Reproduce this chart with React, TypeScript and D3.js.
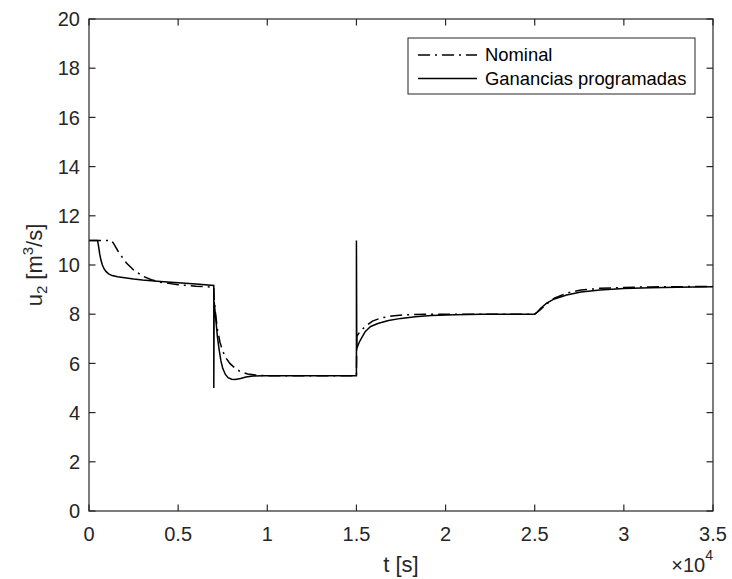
import React from "react";
import * as d3 from "d3";

const xTicks = [0, 5000, 10000, 15000, 20000, 25000, 30000, 35000];
const xTickLabels = ["0", "0.5", "1", "1.5", "2", "2.5", "3", "3.5"];
const yTicks = [0, 2, 4, 6, 8, 10, 12, 14, 16, 18, 20];

const tGanancias = [
  0, 480, 540, 600, 670, 750, 850, 950, 1100, 1300, 1600, 2000, 2500, 3000, 3500, 4000, 5000, 6000, 7000,
  7000, 7020, 7100, 7200, 7300, 7400, 7500, 7650, 7800, 8000, 8200, 8500, 8800, 9200, 9800, 15000,
  15000, 15020, 15150, 15300, 15500, 15800, 16200, 16800, 17500, 18300, 19200, 20500, 22000, 25000,
  25150, 25350, 25670, 26100, 26790, 27600, 28660, 30000, 31500, 33000, 35000,
];
const uGanancias = [
  11, 11, 10.75, 10.45, 10.2, 10.0, 9.84, 9.74, 9.64, 9.57, 9.52, 9.48, 9.43, 9.39, 9.36, 9.33, 9.28, 9.23, 9.17,
  5.0, 8.5, 7.9, 7.1, 6.55, 6.1, 5.8, 5.55, 5.42, 5.36, 5.35, 5.39, 5.45, 5.49, 5.5, 5.5,
  11, 6.6, 6.85, 7.05, 7.3, 7.5, 7.62, 7.74, 7.83, 7.9, 7.95, 7.98, 8.0, 8.0,
  8.1, 8.25, 8.45, 8.62, 8.78, 8.9, 8.98, 9.04, 9.08, 9.1, 9.12,
];

const tNominal = [
  0, 1270, 1400, 1600, 1800, 2100, 2500, 3000, 3500, 4000, 5000, 6000, 7000,
  7020, 7100, 7200, 7350, 7500, 7700, 7900, 8200, 8500, 8900, 9400, 10000, 15000,
  15020, 15200, 15500, 15900, 16400, 17000, 17800, 19000, 25000,
  25150, 25350, 25670, 26100, 26790, 27600, 28660, 30000, 31500, 35000,
];
const uNominal = [
  11, 11, 10.85, 10.6, 10.38, 10.08, 9.8, 9.55, 9.4, 9.3, 9.2, 9.14, 9.1,
  8.6, 8.0, 7.4, 6.85, 6.5, 6.2, 6.0, 5.8, 5.66, 5.57, 5.52, 5.5, 5.5,
  7.1, 7.3, 7.5, 7.72, 7.85, 7.93, 7.98, 8.0, 8.0,
  8.08, 8.2, 8.42, 8.65, 8.86, 8.98, 9.05, 9.09, 9.11, 9.13,
];

const legendLabels = ["Nominal", "Ganancias programadas"];

const W = 732;
const H = 579;
const L = 89, R = 713, T = 19, B = 511;
const FONT = "'Liberation Sans', Arial, Helvetica, sans-serif";
const AX = "#262626";

export default function App() {
  const x = d3.scaleLinear().domain([0, 35000]).range([L, R]);
  const y = d3.scaleLinear().domain([0, 20]).range([B, T]);
  const line = d3
    .line<[number, number]>()
    .x((d) => x(d[0]))
    .y((d) => y(d[1]));
  const gan: [number, number][] = tGanancias.map((t, i) => [t, uGanancias[i]]);
  const nom: [number, number][] = tNominal.map((t, i) => [t, uNominal[i]]);
  const tl = 6.5;
  const dash = "12,5,2,5";

  const lx0 = 408, lx1 = 695, ly0 = 38, ly1 = 94;
  const rows = [55, 78.5];

  return (
    <svg
      width={W}
      height={H}
      style={{ position: "absolute", left: 0, top: 0, background: "#fff" }}
      fontFamily={FONT}
    >
      <rect x={0} y={0} width={W} height={H} fill="#fff" />
      <path d={line(nom) || ""} fill="none" stroke="#000" strokeWidth={1.5} strokeDasharray={dash} />
      <path d={line(gan) || ""} fill="none" stroke="#000" strokeWidth={1.5} />

      {/* axes box */}
      <rect x={L} y={T} width={R - L} height={B - T} fill="none" stroke={AX} strokeWidth={1.2} />
      {xTicks.map((t, i) => (
        <g key={"xt" + i}>
          <line x1={x(t)} x2={x(t)} y1={B} y2={B - tl} stroke={AX} strokeWidth={1.2} />
          <line x1={x(t)} x2={x(t)} y1={T} y2={T + tl} stroke={AX} strokeWidth={1.2} />
          <text x={x(t)} y={541} textAnchor="middle" fontSize={20} fill={AX}>
            {xTickLabels[i]}
          </text>
        </g>
      ))}
      {yTicks.map((v, i) => (
        <g key={"yt" + i}>
          <line x1={L} x2={L + tl} y1={y(v)} y2={y(v)} stroke={AX} strokeWidth={1.2} />
          <line x1={R} x2={R - tl} y1={y(v)} y2={y(v)} stroke={AX} strokeWidth={1.2} />
          <text x={80} y={y(v)} dy="0.36em" textAnchor="end" fontSize={20} fill={AX}>
            {v}
          </text>
        </g>
      ))}

      {/* x exponent */}
      <text x={713} y={572} textAnchor="end" fontSize={20} fill={AX}>
        <tspan>×10</tspan>
        <tspan fontSize={14} dy={-12}>4</tspan>
      </text>

      {/* axis labels */}
      <text x={(L + R) / 2} y={572} textAnchor="middle" fontSize={22} fill={AX}>
        t [s]
      </text>
      <text
        transform={`translate(42, ${(T + B) / 2}) rotate(-90)`}
        textAnchor="middle"
        fontSize={22}
        fill={AX}
      >
        <tspan>u</tspan>
        <tspan fontSize={15} dy={5}>2</tspan>
        <tspan dy={-5}> [m</tspan>
        <tspan fontSize={15} dy={-9}>3</tspan>
        <tspan dy={9}>/s]</tspan>
      </text>

      {/* legend */}
      <rect x={lx0} y={ly0} width={lx1 - lx0} height={ly1 - ly0} fill="#fff" stroke={AX} strokeWidth={1} />
      <line x1={418} x2={477} y1={rows[0]} y2={rows[0]} stroke="#000" strokeWidth={1.5} strokeDasharray={dash} />
      <line x1={418} x2={477} y1={rows[1]} y2={rows[1]} stroke="#000" strokeWidth={1.5} />
      {legendLabels.map((s, i) => (
        <text key={s} x={485} y={rows[i]} dy="0.35em" fontSize={18.4} fill="#000">
          {s}
        </text>
      ))}
    </svg>
  );
}
